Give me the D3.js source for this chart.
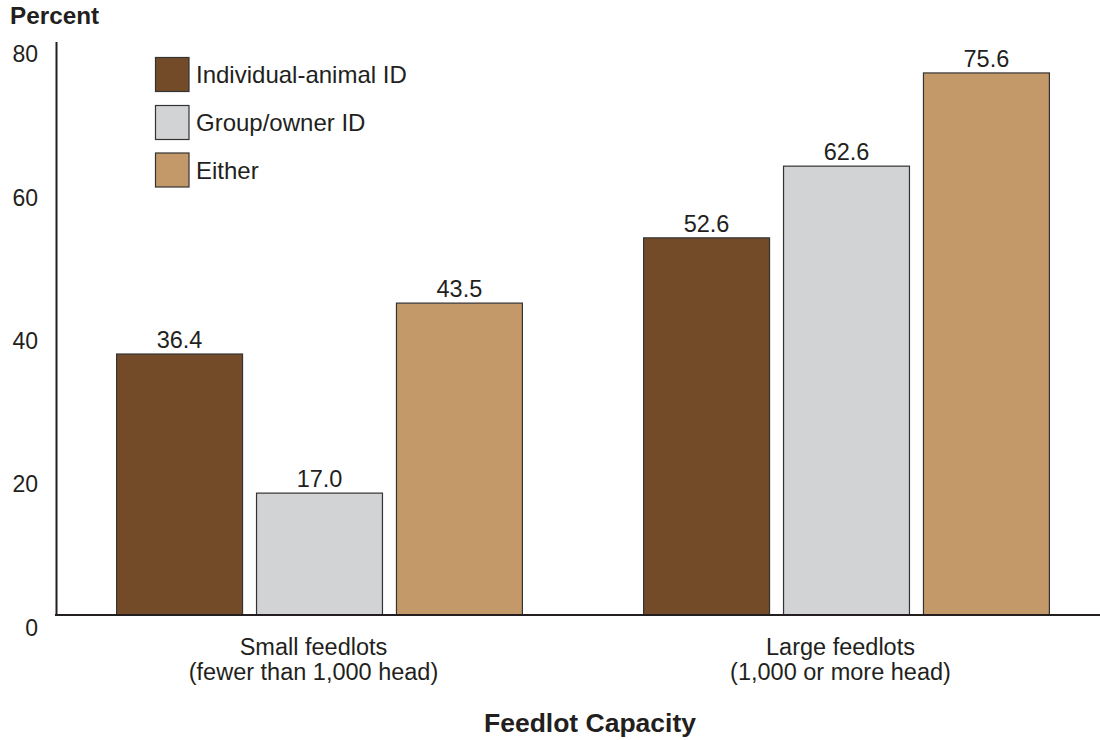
<!DOCTYPE html>
<html><head><meta charset="utf-8">
<script src="https://cdn.jsdelivr.net/npm/d3@7"></script>
<style>body{margin:0;background:#fff}svg{display:block}text{fill:#231f20}</style>
</head><body>
<script>
const categories = ["Small feedlots|(fewer than 1,000 head)", "Large feedlots|(1,000 or more head)"];
const seriesNames = ["Individual-animal ID", "Group/owner ID", "Either"];
const individualAnimal = [36.4, 52.6];
const groupOwner = [17.0, 62.6];
const either = [43.5, 75.6];
const seriesValues = [individualAnimal, groupOwner, either];
const colors = ["#744b28", "#d1d3d4", "#c4996a"];
const yTicks = [0, 20, 40, 60, 80];

const W = 1100, H = 740;
const svg = d3.select("body").append("svg").attr("width", W).attr("height", H);
const sans = "'Liberation Sans', Arial, Helvetica, sans-serif";

const y = d3.scaleLinear().domain([0, 80]).range([615, 41.4]);
const x0 = d3.scaleBand().domain(categories).range([56, 1110]).paddingInner(0.23).paddingOuter(0.115);
const x1 = d3.scaleBand().domain(seriesNames).range([0, x0.bandwidth()]).paddingInner(0.1).paddingOuter(0);

// bars
const g = svg.append("g");
categories.forEach((c, ci) => {
  seriesNames.forEach((s, si) => {
    const v = seriesValues[si][ci];
    const bx = x0(c) + x1(s);
    g.append("rect").attr("x", bx).attr("y", y(v))
      .attr("width", x1.bandwidth()).attr("height", y(0) - y(v))
      .attr("fill", colors[si]).attr("stroke", "#333").attr("stroke-width", 1.2);
    g.append("text").attr("x", bx + x1.bandwidth() / 2).attr("y", y(v) - 6)
      .attr("text-anchor", "middle").attr("font-family", sans).attr("font-size", 23.5)
      .text(v.toFixed(1));
  });
});

// y axis
const yAxis = d3.axisLeft(y).tickValues(yTicks).tickSize(0).tickPadding(18).tickFormat(d3.format("d"));
const ya = svg.append("g").attr("transform", "translate(56,0)").call(yAxis);
ya.select(".domain").attr("stroke", "#231f20").attr("stroke-width", 2);
ya.selectAll("text").attr("font-family", sans).attr("font-size", 23).attr("fill", "#231f20").attr("dy", "0.88em");

// x baseline
const xAxis = d3.axisBottom(x0).tickSize(0).tickFormat("");
const xa = svg.append("g").attr("transform", `translate(0,${y(0)})`).call(xAxis);
xa.select(".domain").attr("d", `M55,0H1100`).attr("stroke", "#231f20").attr("stroke-width", 2);

// category labels
categories.forEach(c => {
  const lines = c.split("|");
  const cx = x0(c) + x0.bandwidth() / 2 - 6;
  lines.forEach((l, i) => svg.append("text").attr("x", cx).attr("y", 655 + i * 25)
    .attr("text-anchor", "middle").attr("font-family", sans).attr("font-size", 23.5).text(l));
});

svg.append("text").attr("x", 590).attr("y", 731.5).attr("text-anchor", "middle")
  .attr("font-family", sans).attr("font-weight", "bold").attr("font-size", 26.5).text("Feedlot Capacity");

svg.append("text").attr("x", 10).attr("y", 24).attr("font-family", sans)
  .attr("font-weight", "bold").attr("font-size", 24.3).text("Percent");

// legend
const legY = [57.5, 105.5, 153];
seriesNames.forEach((s, i) => {
  svg.append("rect").attr("x", 155.5).attr("y", legY[i]).attr("width", 33.5).attr("height", 34)
    .attr("fill", colors[i]).attr("stroke", "#333").attr("stroke-width", 1.2);
  svg.append("text").attr("x", 196).attr("y", legY[i] + 25.5).attr("font-family", sans)
    .attr("font-size", 24).text(s);
});
</script>
</body></html>
